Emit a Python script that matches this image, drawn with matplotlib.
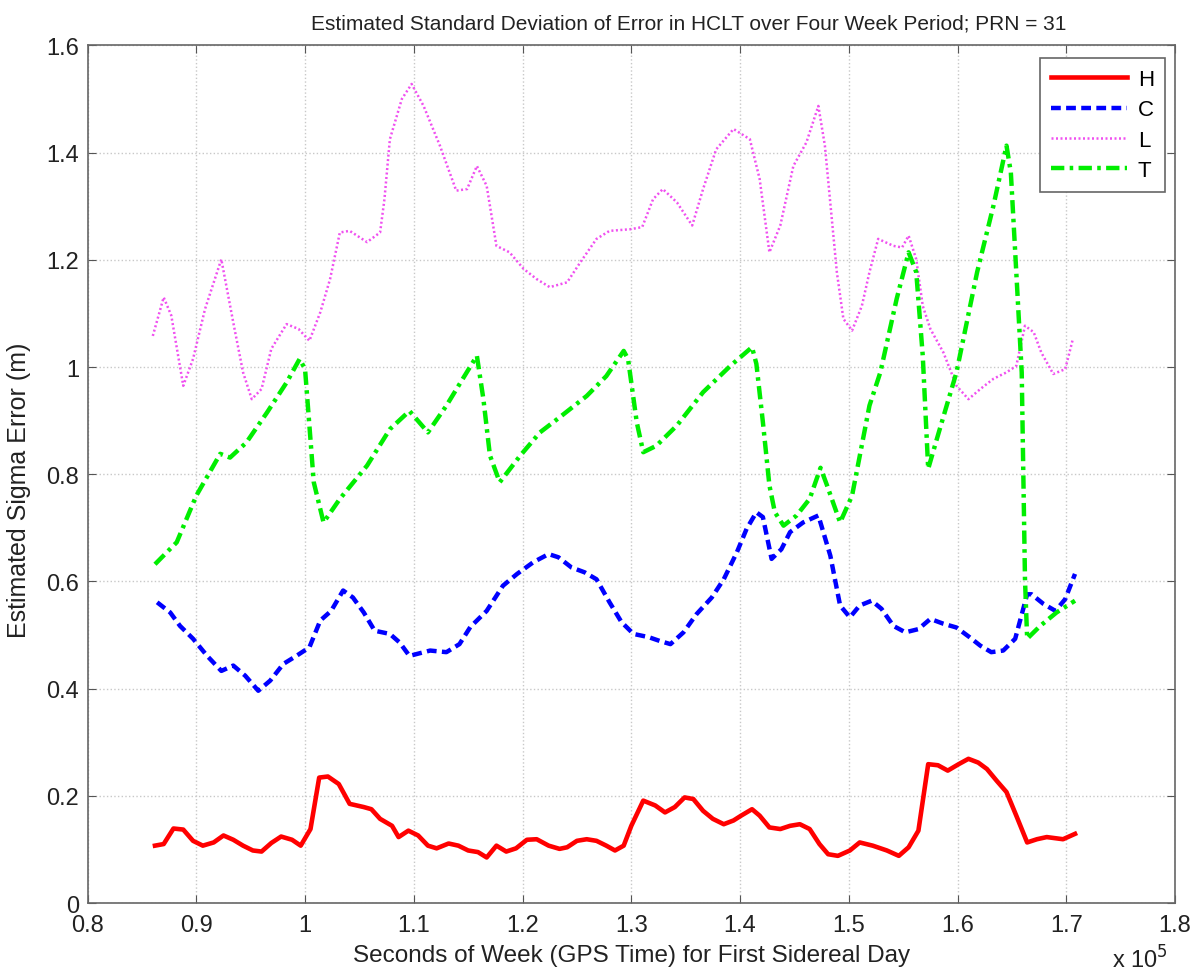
import numpy as np
import matplotlib
matplotlib.use("Agg")
import matplotlib.pyplot as plt
from matplotlib.ticker import FuncFormatter, MultipleLocator

# x values are in units of 1e5 seconds of week
h_x = [0.862, 0.870, 0.879, 0.888, 0.897, 0.906, 0.916, 0.925, 0.934, 0.943,
       0.952, 0.960, 0.969, 0.978, 0.988, 0.996, 1.005, 1.013, 1.021, 1.031,
       1.041, 1.054, 1.061, 1.069, 1.080, 1.086, 1.095, 1.104, 1.113, 1.121,
       1.132, 1.141, 1.150, 1.159, 1.167, 1.176, 1.185, 1.194, 1.204, 1.213,
       1.224, 1.234, 1.241, 1.250, 1.259, 1.268, 1.277, 1.285, 1.293, 1.300,
       1.311, 1.322, 1.331, 1.340, 1.349, 1.357, 1.366, 1.375, 1.385, 1.394,
       1.401, 1.411, 1.418, 1.427, 1.437, 1.446, 1.455, 1.464, 1.473, 1.481,
       1.490, 1.501, 1.510, 1.522, 1.535, 1.546, 1.555, 1.564, 1.573, 1.582,
       1.591, 1.601, 1.610, 1.619, 1.627, 1.636, 1.645, 1.654, 1.664, 1.673,
       1.682, 1.697, 1.708]
h_y = [0.107, 0.110, 0.139, 0.137, 0.116, 0.107, 0.113, 0.126, 0.118, 0.107,
       0.098, 0.096, 0.112, 0.124, 0.118, 0.107, 0.138, 0.234, 0.236, 0.222,
       0.185, 0.179, 0.175, 0.157, 0.144, 0.123, 0.135, 0.126, 0.107, 0.102,
       0.111, 0.107, 0.098, 0.095, 0.085, 0.107, 0.096, 0.102, 0.118, 0.119,
       0.107, 0.101, 0.104, 0.116, 0.119, 0.116, 0.107, 0.098, 0.107, 0.144,
       0.191, 0.182, 0.169, 0.179, 0.197, 0.194, 0.172, 0.157, 0.147, 0.154,
       0.163, 0.175, 0.163, 0.141, 0.138, 0.144, 0.147, 0.138, 0.110, 0.091,
       0.088, 0.098, 0.113, 0.107, 0.098, 0.088, 0.104, 0.135, 0.259, 0.257,
       0.247, 0.259, 0.269, 0.262, 0.250, 0.228, 0.207, 0.163, 0.113, 0.119,
       0.123, 0.119, 0.129]

c_x = [0.864, 0.876, 0.885, 0.897, 0.910, 0.923, 0.934, 0.945, 0.957, 0.968,
       0.980, 0.992, 1.004, 1.014, 1.024, 1.035, 1.044, 1.054, 1.064, 1.078,
       1.087, 1.096, 1.115, 1.130, 1.142, 1.152, 1.167, 1.182, 1.195, 1.210,
       1.224, 1.233, 1.245, 1.257, 1.268, 1.280, 1.291, 1.302, 1.316, 1.326,
       1.336, 1.348, 1.360, 1.374, 1.385, 1.397, 1.406, 1.415, 1.421, 1.429,
       1.438, 1.446, 1.458, 1.472, 1.483, 1.492, 1.501, 1.510, 1.521, 1.530,
       1.541, 1.552, 1.564, 1.575, 1.587, 1.599, 1.611, 1.621, 1.631, 1.642,
       1.653, 1.664, 1.668, 1.679, 1.690, 1.699, 1.708]
c_y = [0.561, 0.542, 0.517, 0.493, 0.461, 0.433, 0.443, 0.424, 0.396, 0.415,
       0.446, 0.461, 0.477, 0.527, 0.545, 0.583, 0.570, 0.542, 0.508, 0.502,
       0.486, 0.461, 0.471, 0.468, 0.483, 0.515, 0.545, 0.592, 0.614, 0.636,
       0.651, 0.645, 0.626, 0.617, 0.604, 0.561, 0.524, 0.502, 0.496, 0.489,
       0.483, 0.505, 0.539, 0.570, 0.604, 0.654, 0.698, 0.729, 0.720, 0.642,
       0.660, 0.692, 0.710, 0.723, 0.648, 0.555, 0.533, 0.555, 0.564, 0.549,
       0.517, 0.505, 0.511, 0.530, 0.521, 0.514, 0.496, 0.480, 0.468, 0.471,
       0.493, 0.576, 0.576, 0.558, 0.545, 0.567, 0.614]

l_x = [0.860, 0.870, 0.877, 0.888, 0.897, 0.908, 0.923, 0.934, 0.943, 0.951,
       0.960, 0.969, 0.983, 0.994, 1.004, 1.014, 1.023, 1.032, 1.041, 1.057,
       1.069, 1.073, 1.078, 1.089, 1.098, 1.109, 1.124, 1.139, 1.149, 1.158,
       1.167, 1.176, 1.188, 1.201, 1.213, 1.225, 1.241, 1.253, 1.268, 1.280,
       1.299, 1.310, 1.320, 1.329, 1.342, 1.356, 1.366, 1.378, 1.394, 1.409,
       1.418, 1.427, 1.437, 1.449, 1.461, 1.472, 1.478, 1.489, 1.495, 1.503,
       1.512, 1.519, 1.527, 1.541, 1.549, 1.555, 1.562, 1.568, 1.575, 1.587,
       1.599, 1.610, 1.621, 1.633, 1.645, 1.654, 1.662, 1.670, 1.677, 1.688,
       1.699, 1.706]
l_y = [1.058, 1.130, 1.096, 0.965, 1.015, 1.108, 1.201, 1.083, 0.990, 0.940,
       0.959, 1.034, 1.080, 1.071, 1.049, 1.102, 1.164, 1.251, 1.254, 1.233,
       1.251, 1.313, 1.425, 1.500, 1.528, 1.487, 1.413, 1.329, 1.332, 1.375,
       1.338, 1.226, 1.214, 1.183, 1.164, 1.149, 1.158, 1.195, 1.239, 1.254,
       1.257, 1.261, 1.313, 1.332, 1.307, 1.264, 1.332, 1.406, 1.444, 1.425,
       1.351, 1.214, 1.264, 1.375, 1.419, 1.487, 1.413, 1.177, 1.090, 1.068,
       1.114, 1.177, 1.239, 1.226, 1.223, 1.245, 1.201, 1.114, 1.071, 1.027,
       0.965, 0.940, 0.959, 0.978, 0.990, 1.002, 1.077, 1.065, 1.027, 0.987,
       0.996, 1.052]

t_x = [0.862, 0.882, 0.900, 0.922, 0.931, 0.946, 0.965, 0.983, 0.995, 1.000,
       1.008, 1.017, 1.032, 1.057, 1.078, 1.096, 1.113, 1.130, 1.158, 1.164,
       1.170, 1.179, 1.198, 1.216, 1.234, 1.259, 1.277, 1.293, 1.297, 1.305,
       1.311, 1.323, 1.342, 1.366, 1.391, 1.411, 1.415, 1.421, 1.427, 1.432,
       1.440, 1.452, 1.464, 1.474, 1.480, 1.492, 1.503, 1.519, 1.529, 1.544,
       1.555, 1.562, 1.568, 1.573, 1.581, 1.599, 1.618, 1.633, 1.645, 1.649,
       1.654, 1.659, 1.662, 1.664, 1.676, 1.691, 1.708]
t_y = [0.632, 0.673, 0.760, 0.838, 0.831, 0.859, 0.915, 0.971, 1.015, 0.996,
       0.785, 0.710, 0.754, 0.816, 0.884, 0.918, 0.878, 0.928, 1.021, 0.940,
       0.835, 0.785, 0.835, 0.878, 0.906, 0.946, 0.983, 1.030, 1.015, 0.897,
       0.841, 0.853, 0.891, 0.953, 1.002, 1.037, 1.006, 0.897, 0.779, 0.729,
       0.704, 0.723, 0.754, 0.812, 0.779, 0.710, 0.760, 0.928, 0.990, 1.127,
       1.214, 1.177, 1.021, 0.810, 0.866, 0.990, 1.177, 1.301, 1.413, 1.363,
       1.177, 0.990, 0.604, 0.493, 0.517, 0.542, 0.564]

labels = ["H", "C", "L", "T"]

plt.rcParams["font.family"] = ["Liberation Sans", "DejaVu Sans"]

fig = plt.figure(figsize=(12.01, 9.79), dpi=100)
ax = fig.add_axes([0.0729, 0.0766, 0.9055, 0.876])

sec = 1e5
ax.plot(np.array(h_x) * sec, h_y, color="#ff0000", lw=3.3, ls="-", label=labels[0])
ax.plot(np.array(c_x) * sec, c_y, color="#0000ff", lw=3.2, ls=(0, (2.2, 1.2)), label=labels[1])
ax.plot(np.array(l_x) * sec, l_y, color="#f050f0", lw=1.8, ls=(0, (0.8, 1.0)), label=labels[2])
ax.plot(np.array(t_x) * sec, t_y, color="#00ee00", lw=3.2, ls=(0, (3.0, 1.2, 0.8, 1.2)), label=labels[3])

ax.set_xlim(0.8e5, 1.8e5)
ax.set_ylim(0, 1.6)
ax.xaxis.set_major_locator(MultipleLocator(0.1e5))
ax.yaxis.set_major_locator(MultipleLocator(0.2))
ax.xaxis.set_major_formatter(FuncFormatter(lambda v, p: "%g" % round(v / sec, 2)))
ax.yaxis.set_major_formatter(FuncFormatter(lambda v, p: "%g" % round(v, 2)))
ax.tick_params(direction="in", top=True, right=True, length=6, labelsize=17,
               color="#555555", labelcolor="#222222")
ax.tick_params(axis="x", pad=8)
ax.tick_params(axis="y", pad=6)
ax.grid(True, color="#c8c8c8", ls=":", lw=1.0)
for s in ax.spines.values():
    s.set_color("#666666")
    s.set_linewidth(1.2)

ax.set_title("Estimated Standard Deviation of Error in HCLT over Four Week Period; PRN = 31",
             fontsize=15, color="#222222", x=0.553, pad=12)
ax.set_xlabel("Seconds of Week (GPS Time) for First Sidereal Day", fontsize=17.5,
              color="#222222", labelpad=6)
ax.set_ylabel("Estimated Sigma Error (m)", fontsize=18, color="#222222")
ax.yaxis.set_label_coords(-0.052, 0.482)
ax.text(0.993, -0.065, r"x 10$^5$", transform=ax.transAxes, ha="right", va="center",
        fontsize=17, color="#222222")

leg = ax.legend(loc="upper right", bbox_to_anchor=(0.9908, 0.9853), borderaxespad=0,
                fontsize=16, handlelength=3.4, handletextpad=0.5, fancybox=False,
                edgecolor="#666666", framealpha=1, labelspacing=0.42, borderpad=0.5)
leg.get_frame().set_linewidth(1.2)

fig.savefig("out.png", dpi=100, facecolor="white")
